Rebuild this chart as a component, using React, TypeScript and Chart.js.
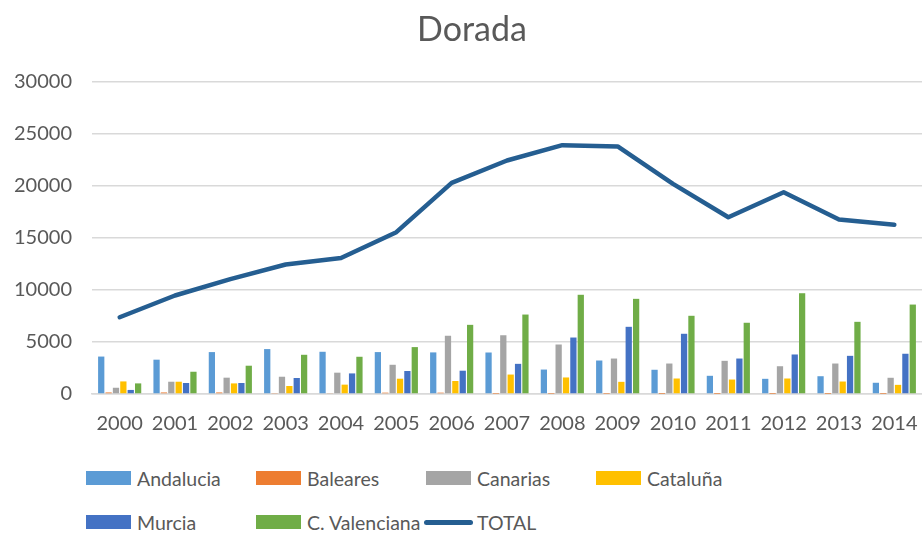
import React, { useEffect, useRef } from "react";
import { Chart, registerables } from "chart.js";

Chart.register(...registerables);

const years = ["2000", "2001", "2002", "2003", "2004", "2005", "2006", "2007", "2008", "2009", "2010", "2011", "2012", "2013", "2014"];
const andalucia = [3600, 3300, 4030, 4320, 4060, 4030, 4000, 3990, 2350, 3220, 2330, 1750, 1460, 1710, 1080];
const baleares = [150, 150, 150, 50, 60, 130, 130, 20, 20, 20, 10, 10, 10, 10, 10];
const canarias = [600, 1180, 1570, 1660, 2050, 2810, 5600, 5650, 4760, 3410, 2930, 3190, 2670, 2930, 1560];
const cataluna = [1210, 1180, 1020, 770, 900, 1470, 1250, 1870, 1590, 1170, 1490, 1390, 1490, 1200, 880];
const murcia = [390, 1060, 1060, 1540, 1980, 2210, 2240, 2900, 5430, 6460, 5790, 3410, 3800, 3670, 3870];
const valenciana = [1020, 2140, 2720, 3770, 3580, 4510, 6650, 7640, 9540, 9150, 7520, 6850, 9690, 6940, 8600];
const total = [7380, 9470, 11050, 12450, 13080, 15560, 20300, 22450, 23930, 23800, 20200, 17000, 19400, 16780, 16270];

const FONT = "Lato, 'Open Sans', sans-serif";
const TEXT = "#595959";

const legendItems = [
  { label: "Andalucia", color: "#5B9BD5", line: false },
  { label: "Baleares", color: "#ED7D31", line: false },
  { label: "Canarias", color: "#A5A5A5", line: false },
  { label: "Cataluña", color: "#FFC000", line: false },
  { label: "Murcia", color: "#4472C4", line: false },
  { label: "C. Valenciana", color: "#70AD47", line: false },
  { label: "TOTAL", color: "#255E91", line: true },
];

export default function App() {
  const ref = useRef<HTMLCanvasElement | null>(null);

  useEffect(() => {
    document.body.style.margin = "0";
    const ctx = ref.current!.getContext("2d")!;
    const bar = (label: string, data: number[], color: string) => ({
      type: "bar" as const,
      label,
      data,
      backgroundColor: color,
      order: 1,
      categoryPercentage: 0.8,
      barPercentage: 0.85,
    });
    const chart = new Chart(ctx, {
      type: "bar",
      data: {
        labels: years,
        datasets: [
          bar("Andalucia", andalucia, "#5B9BD5"),
          bar("Baleares", baleares, "#ED7D31"),
          bar("Canarias", canarias, "#A5A5A5"),
          bar("Cataluña", cataluna, "#FFC000"),
          bar("Murcia", murcia, "#4472C4"),
          bar("C. Valenciana", valenciana, "#70AD47"),
          {
            type: "line" as const,
            label: "TOTAL",
            data: total,
            borderColor: "#255E91",
            backgroundColor: "#255E91",
            borderWidth: 4.5,
            pointRadius: 0,
            tension: 0,
            borderCapStyle: "round",
            borderJoinStyle: "round",
            order: 0,
          } as any,
        ],
      },
      options: {
        responsive: false,
        animation: false,
        layout: { padding: { left: 0, right: 0, top: 82, bottom: 0 } },
        plugins: {
          legend: { display: false },
          tooltip: { enabled: false },
          title: { display: false },
        },
        scales: {
          x: {
            grid: { display: false, drawTicks: false },
            border: { display: true, color: "#D9D9D9", width: 1.5 },
            ticks: { color: TEXT, font: { family: FONT, size: 20 }, padding: 18, maxRotation: 0, autoSkip: false },
            afterFit: (s: any) => { s.height = 51; s.paddingRight = 0; s.paddingLeft = 0; },
          },
          y: {
            min: 0,
            max: 30000,
            ticks: {
              stepSize: 5000,
              color: TEXT,
              font: { family: FONT, size: 20 },
              padding: 20,
              callback: (v: any) => String(v),
            },
            grid: { color: "#D9D9D9", lineWidth: 1.5, drawTicks: false },
            border: { display: false },
            afterFit: (s: any) => { s.width = 92; s.paddingTop = 0; s.paddingBottom = 0; },
          },
        },
      },
    });
    return () => chart.destroy();
  }, []);

  return (
    <div style={{ position: "relative", width: 922, height: 533, background: "#fff", fontFamily: FONT, overflow: "hidden" }}>
      <div
        style={{
          position: "absolute",
          left: 372,
          width: 200,
          top: 8,
          textAlign: "center",
          color: TEXT,
          fontSize: 34,
          lineHeight: "40px",
        }}
      >
        Dorada
      </div>
      <canvas ref={ref} width={922} height={445} style={{ display: "block" }} />
      <div style={{ position: "absolute", left: 86, top: 462, width: 836 }}>
        {legendItems.map((it, i) => {
          const col = i < 4 ? i : i - 4;
          const row = i < 4 ? 0 : 1;
          return (
            <div
              key={it.label}
              style={{
                position: "absolute",
                left: col * 170 - (it.line ? 2 : 0),
                top: row * 44,
                display: "flex",
                alignItems: "center",
                height: 32,
                whiteSpace: "nowrap",
              }}
            >
              {it.line ? (
                <span style={{ display: "inline-block", width: 49, height: 5, borderRadius: 3, background: it.color, marginRight: 4 }} />
              ) : (
                <span style={{ display: "inline-block", width: 45, height: 14, background: it.color, marginRight: 6 }} />
              )}
              <span style={{ color: TEXT, fontSize: 19.5 }}>{it.label}</span>
            </div>
          );
        })}
      </div>
    </div>
  );
}
